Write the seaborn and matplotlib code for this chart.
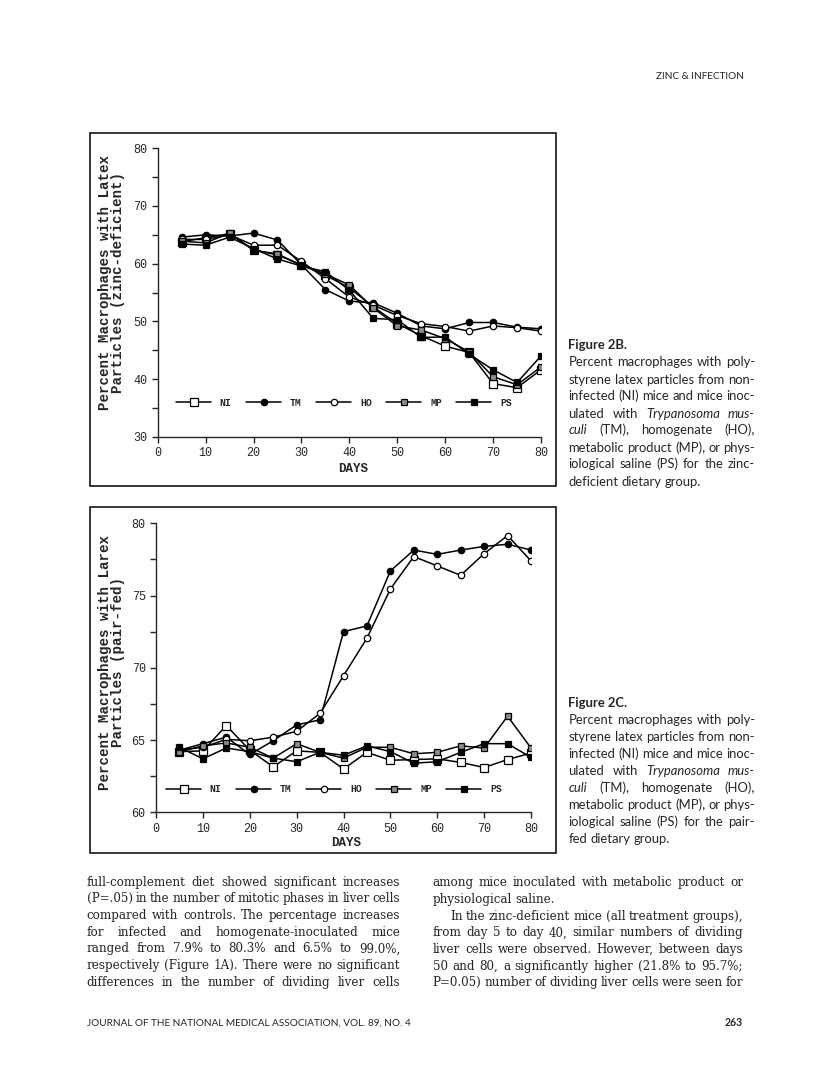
import matplotlib
matplotlib.use('Agg')
import matplotlib.pyplot as plt
import seaborn as sns
import pandas as pd
from matplotlib.patches import Rectangle
from matplotlib.ticker import MultipleLocator

# --- values ---
days = [5, 10, 15, 20, 25, 30, 35, 40, 45, 50, 55, 60, 65, 70, 75, 80]
groups = ['NI', 'TM', 'HO', 'MP', 'PS']

# Figure 2B, zinc-deficient
zinc_ni = [63.8, 64.5, 65.2, 62.4, 61.5, 59.8, 58.0, 55.8, 52.5, 49.6, 47.5, 45.7, 44.6, 39.2, 38.5, 41.6]
zinc_tm = [64.6, 65.0, 64.8, 65.3, 64.1, 59.8, 55.5, 53.5, 53.2, 51.4, 49.2, 48.7, 49.8, 49.8, 49.0, 48.7]
zinc_ho = [64.2, 64.2, 65.0, 63.2, 63.2, 60.4, 57.4, 54.2, 52.8, 51.0, 49.6, 49.1, 48.3, 49.2, 48.9, 48.3]
zinc_mp = [63.9, 63.6, 65.3, 62.3, 61.7, 59.7, 58.2, 56.3, 52.3, 49.2, 48.5, 47.0, 44.7, 40.4, 39.0, 42.1]
zinc_ps = [63.4, 63.2, 64.6, 62.6, 60.8, 59.6, 58.6, 55.4, 50.5, 50.3, 47.2, 47.3, 44.3, 41.6, 39.4, 44.0]

# Figure 2C, pair-fed
pair_ni = [64.2, 64.25, 66.0, 64.3, 63.15, 64.25, 64.15, 63.0, 64.15, 63.6, 63.65, 63.7, 63.45, 63.1, 63.65, 64.1]
pair_tm = [64.3, 64.75, 65.2, 64.0, 64.95, 66.05, 66.4, 72.5, 72.9, 76.7, 78.15, 77.85, 78.15, 78.4, 78.55, 78.15]
pair_ho = [64.3, 64.5, 65.05, 64.95, 65.2, 65.6, 66.85, 69.45, 72.05, 75.45, 77.7, 77.05, 76.4, 77.9, 79.15, 77.4]
pair_mp = [64.2, 64.6, 64.8, 64.5, 63.75, 64.75, 64.15, 63.75, 64.5, 64.5, 64.05, 64.15, 64.6, 64.45, 66.65, 64.45]
pair_ps = [64.5, 63.7, 64.45, 64.2, 63.75, 63.5, 64.15, 63.95, 64.6, 64.2, 63.4, 63.5, 64.15, 64.75, 64.75, 63.8]

caption_2b = ['Percent macrophages with poly-',
              'styrene latex particles from non-',
              'infected (NI) mice and mice inoc-',
              'ulated with *Trypanosoma *mus-',
              '*culi (TM), homogenate (HO),',
              'metabolic product (MP), or phys-',
              'iological saline (PS) for the zinc-',
              'deficient dietary group.']
caption_2c = caption_2b[:6] + ['iological saline (PS) for the pair-',
                               'fed dietary group.']

body_left = ['full-complement diet showed significant increases',
             '(P=.05) in the number of mitotic phases in liver cells',
             'compared with controls. The percentage increases',
             'for infected and homogenate-inoculated mice',
             'ranged from 7.9% to 80.3% and 6.5% to 99.0%,',
             'respectively (Figure 1A). There were no significant',
             'differences in the number of dividing liver cells']
body_right = ['among mice inoculated with metabolic product or',
              'physiological saline.',
              'In the zinc-deficient mice (all treatment groups),',
              'from day 5 to day 40, similar numbers of dividing',
              'liver cells were observed. However, between days',
              '50 and 80, a significantly higher (21.8% to 95.7%;',
              'P=0.05) number of dividing liver cells were seen for']

W, H = 816, 1088
sns.set_style('ticks')
plt.rcParams['font.family'] = ['DejaVu Sans']
plt.rcParams['axes.linewidth'] = 1.0

fig = plt.figure(figsize=(W / 100, H / 100), dpi=100)
renderer = fig.canvas.get_renderer()


def frac(x0, y0, x1, y1):
    # page pixels (top-left origin) -> [left, bottom, width, height]
    return [x0 / W, 1 - y1 / H, (x1 - x0) / W, (y1 - y0) / H]


marker_styles = {
    'NI': dict(marker='s', markerfacecolor='white', markersize=5.2),
    'TM': dict(marker='o', markerfacecolor='black', markersize=4.6),
    'HO': dict(marker='o', markerfacecolor='white', markersize=4.6),
    'MP': dict(marker='s', markerfacecolor='0.55', markersize=4.4),
    'PS': dict(marker='s', markerfacecolor='black', markersize=5.0),
}
mono = 'Liberation Mono'


def draw_panel(box, axbox, series, ylim, major, minor, ylabel, ylab_xy, xlab_xy, leg_xy):
    l, b, w, h = frac(*box)
    fig.patches.append(Rectangle((l, b), w, h, transform=fig.transFigure,
                                 fill=False, edgecolor='black', linewidth=1.1))
    ax = fig.add_axes(frac(*axbox))
    df = pd.DataFrame({'day': days * len(groups),
                       'value': [v for s in series for v in s],
                       'group': [g for g in groups for _ in days]})
    for g in groups:
        sns.lineplot(data=df[df['group'] == g], x='day', y='value', ax=ax,
                     color='black', linewidth=1.1, errorbar=None,
                     markeredgecolor='black', markeredgewidth=0.9,
                     label=g, **marker_styles[g])
    ax.set_xlim(0, 80)
    ax.set_ylim(*ylim)
    ax.xaxis.set_major_locator(MultipleLocator(10))
    ax.yaxis.set_major_locator(MultipleLocator(major))
    ax.yaxis.set_minor_locator(MultipleLocator(minor))
    ax.tick_params(which='both', direction='out', length=4, width=1.0,
                   labelsize=8.5, pad=3.5)
    for t in ax.get_xticklabels() + ax.get_yticklabels():
        t.set_fontfamily(mono)
    sns.despine(ax=ax)
    ax.set_ylabel(ylabel, fontfamily=mono, fontweight='bold', fontsize=10.2,
                  linespacing=0.9)
    ax.yaxis.set_label_coords(*ylab_xy)
    ax.set_xlabel('DAYS', fontfamily=mono, fontweight='bold', fontsize=9)
    ax.xaxis.set_label_coords(*xlab_xy)
    ax.legend(ncol=5, loc='center left', bbox_to_anchor=leg_xy, frameon=False,
              handlelength=3.6, handletextpad=0.9, columnspacing=1.5,
              borderaxespad=0, borderpad=0, numpoints=1,
              prop=dict(family=mono, weight='bold', size=7))
    return ax


draw_panel((90, 133, 556, 486), (157.7, 148.3, 541, 436.7),
           [zinc_ni, zinc_tm, zinc_ho, zinc_mp, zinc_ps], (30, 80), 10, 5,
           'Percent Macrophages with Latex\nParticles (zinc-deficient)',
           (-0.085, 0.535), (0.51, -0.09), (0.048, 0.118))
draw_panel((90, 507, 556, 853), (156, 523.3, 531, 812.3),
           [pair_ni, pair_tm, pair_ho, pair_mp, pair_ps], (60, 80), 5, 2.5,
           'Percent Macrophages with Larex\nParticles (pair-fed)',
           (-0.083, 0.52), (0.507, -0.085), (0.027, 0.08))


def text_line(x0, x1, y, line, justify=True, **kw):
    # one printed line; words spread out to fill the column when justified
    items = []
    for word in line.split(' '):
        style = 'italic' if word.startswith('*') else 'normal'
        items.append(fig.text(x0 / W, 1 - y / H, word.lstrip('*'),
                              style=style, va='baseline', **kw))
    widths = [t.get_window_extent(renderer).width for t in items]
    probe = fig.text(0, 0, 'x x', **kw)
    probe2 = fig.text(0, 0, 'xx', **kw)
    space = probe.get_window_extent(renderer).width - probe2.get_window_extent(renderer).width
    probe.remove()
    probe2.remove()
    gap = space
    if justify and len(items) > 1:
        gap = max((x1 - x0 - sum(widths)) / (len(items) - 1), 0.5 * space)
    x = x0
    for t, wd in zip(items, widths):
        t.set_x(x / W)
        x += wd + gap


cap_kw = dict(family='Lato', size=9.4)
for fig_title, lines, y0 in [('Figure 2B.', caption_2b, 349.3),
                             ('Figure 2C.', caption_2c, 706.7)]:
    fig.text(568.3 / W, 1 - y0 / H, fig_title, va='baseline', weight='bold', **cap_kw)
    for i, line in enumerate(lines):
        text_line(568.3, 755, y0 + 17.2 + i * 17.0, line,
                  justify=(i < len(lines) - 1), **cap_kw)

body_kw = dict(family='DejaVu Serif', size=8.6)
for i, line in enumerate(body_left):
    text_line(86.7, 400, 885.7 + i * 16.67, line, **body_kw)
for i, line in enumerate(body_right):
    x0 = 450 if i == 2 else 432.7
    text_line(x0, 743, 886.3 + i * 16.67, line, justify=(i != 1), **body_kw)

fig.text(744 / W, 1 - 79 / H, 'ZINC & INFECTION', ha='right', va='baseline',
         family='Lato', size=7.2)
fig.text(87 / W, 1 - 1026 / H,
         'JOURNAL OF THE NATIONAL MEDICAL ASSOCIATION, VOL. 89, NO. 4',
         va='baseline', family='Lato', size=7.2)
fig.text(743 / W, 1 - 1026 / H, '263', ha='right', va='baseline',
         family='Lato', size=7.6, weight='bold')

fig.savefig('out.png', dpi=100, facecolor='white')
